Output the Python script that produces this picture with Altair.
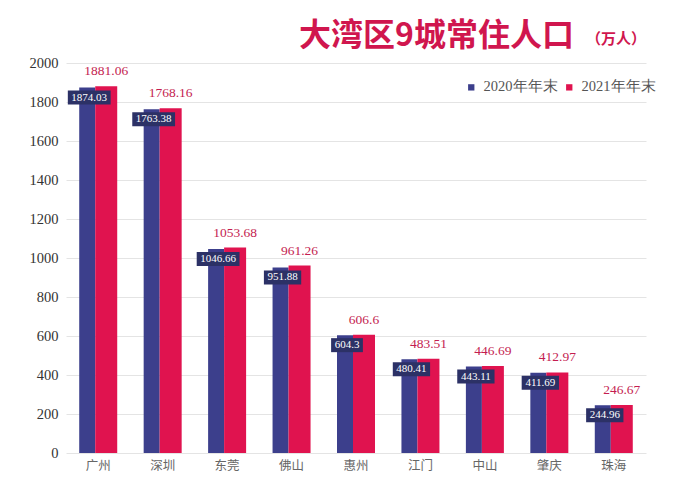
import altair as alt
import pandas as pd

cities = ["广州", "深圳", "东莞", "佛山", "惠州", "江门", "中山", "肇庆", "珠海"]
years = ["2020年年末", "2021年年末"]
pop2020 = [1874.03, 1763.38, 1046.66, 951.88, 604.3, 480.41, 443.11, 411.69, 244.96]
pop2021 = [1881.06, 1768.16, 1053.68, 961.26, 606.6, 483.51, 446.69, 412.97, 246.67]
y_ticks = list(range(0, 2001, 200))

rows = []
for c, a, b in zip(cities, pop2020, pop2021):
    for yr, v in ((years[0], a), (years[1], b)):
        lab = str(v)
        digits = sum(ch.isdigit() for ch in lab)
        rows.append({"city": c, "year": yr, "value": v, "label": lab,
                     "boxw": digits * 5.5 + 2.8 + 7})
df = pd.DataFrame(rows)

BLUE = "#3c3f8c"
RED = "#e0134f"
NAVY = "#2c3166"
CRIMSON = "#c41d50"

x = alt.X("city:N", sort=cities,
          scale=alt.Scale(paddingInner=0, paddingOuter=0),
          axis=alt.Axis(title=None, labelAngle=0, domain=False, ticks=False,
                        labelFont="Noto Sans CJK SC", labelFontSize=12.5,
                        labelColor="#666666", labelPadding=6))
y = alt.Y("value:Q", scale=alt.Scale(domain=[0, 2000], nice=False),
          axis=alt.Axis(values=y_ticks, format="d", title=None, domain=False, ticks=False,
                        labelFont="Liberation Serif", labelFontSize=14.5,
                        labelColor="#333333", labelPadding=8,
                        gridColor="#e4e4e4", gridWidth=1))
color = alt.Color("year:N", scale=alt.Scale(domain=years, range=[BLUE, RED]),
                  legend=alt.Legend(orient="none", legendX=398, legendY=17,
                                    direction="horizontal", title=None,
                                    symbolType="square", symbolSize=40,
                                    symbolStrokeWidth=0,
                                    labelFont="Liberation Serif", labelFontSize=14.5,
                                    labelColor="#555555", columnPadding=4,
                                    labelOffset=5))

base = alt.Chart(df)
is20 = alt.datum.year == years[0]
is21 = alt.datum.year == years[1]

bars20 = base.transform_filter(is20).mark_bar(width=16, xOffset=-11).encode(x=x, y=y, color=color)
bars21 = base.transform_filter(is21).mark_bar(width=22, xOffset=8).encode(x=x, y=y, color=color)

box20 = base.transform_filter(is20).mark_tick(
    orient="horizontal", thickness=14, xOffset=-9, yOffset=10, color=NAVY, opacity=1
).encode(x=x, y=y, size=alt.Size("boxw:Q", scale=None))

text20 = base.transform_filter(is20).mark_text(
    color="white", font="Liberation Serif", fontSize=11, dx=-9, dy=10, baseline="middle"
).encode(x=x, y=y, text="label:N")

text21 = base.transform_filter(is21).mark_text(
    color=CRIMSON, font="Liberation Serif", fontSize=13.5, dx=8, dy=-15, baseline="middle"
).encode(x=x, y=y, text="label:N")

one = alt.Data(values=[{"t": 1}])
title_main = alt.Chart(one).mark_text(
    text="大湾区9城常住人口", font="Noto Sans CJK SC", fontSize=32, fontWeight="bold",
    color="#d0164e", align="right", baseline="middle"
).encode(x=alt.value(508), y=alt.value(-27))
title_unit = alt.Chart(one).mark_text(
    text="（万人）", font="Noto Sans CJK SC", fontSize=15, fontWeight="bold",
    color="#d0164e", align="left", baseline="middle"
).encode(x=alt.value(520), y=alt.value(-24))

chart = alt.layer(bars20, bars21, box20, text20, text21, title_main, title_unit).properties(
    width=580, height=390,
    padding={"left": 58, "top": 55, "right": 38, "bottom": 31},
    autosize="none", background="white"
).configure_view(stroke=None)

chart.save("out.html", embed_options={"renderer": "svg", "actions": False})
